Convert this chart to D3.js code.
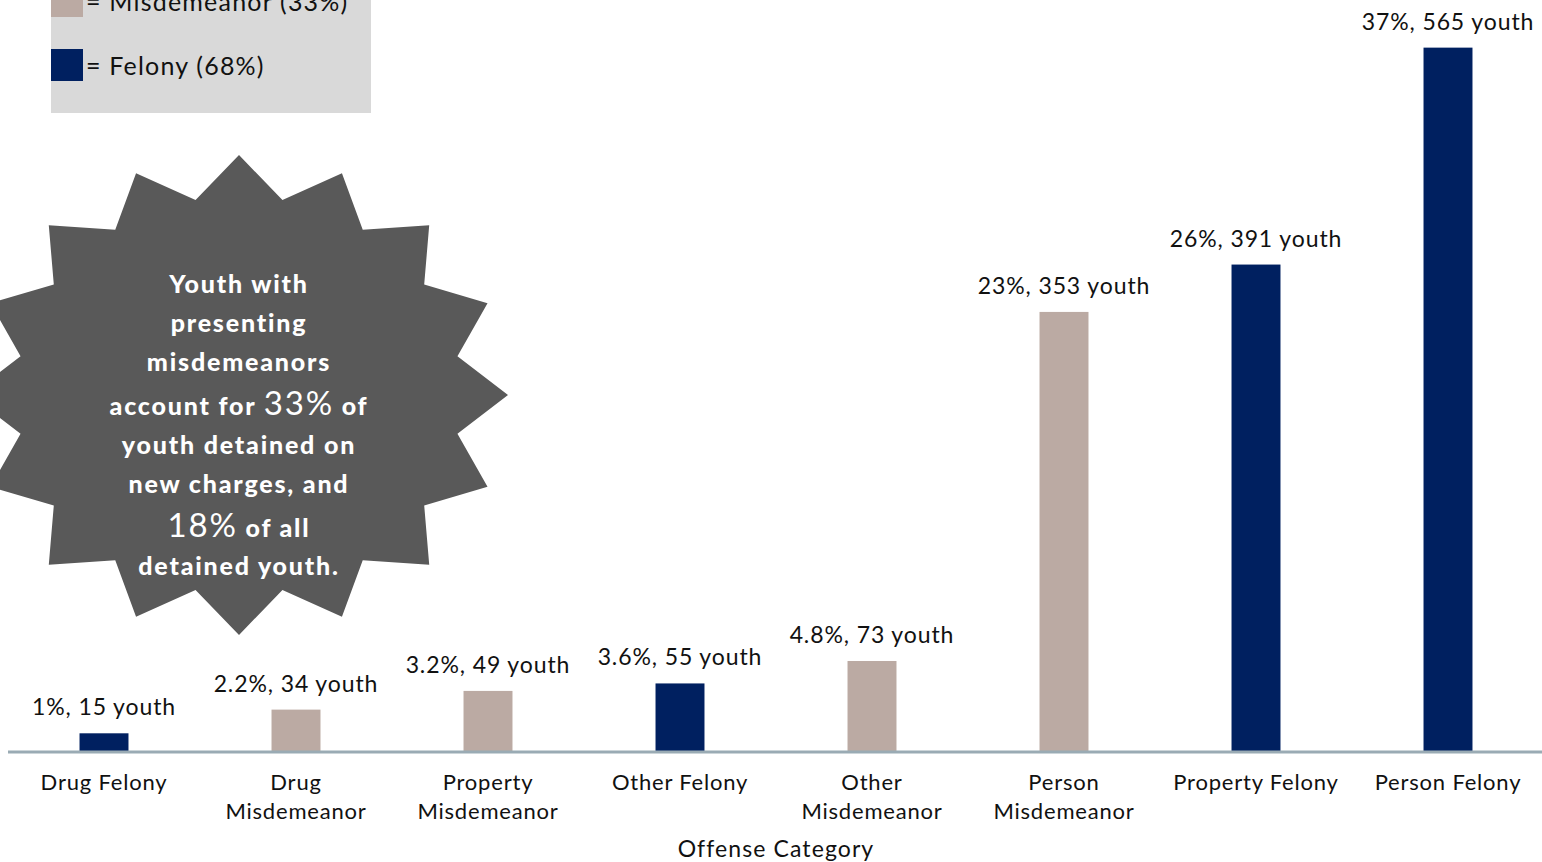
<!DOCTYPE html>
<html>
<head>
<meta charset="utf-8">
<script src="https://cdn.jsdelivr.net/npm/d3@7"></script>
<style>
  html, body { margin: 0; padding: 0; background: #fff; }
  svg { display: block; font-family: Lato, "Open Sans", sans-serif; }
</style>
</head>
<body>
<svg id="chart" width="1542" height="862"></svg>
<script>
// Offense categories (x axis), in display order
const categories = [
  ["Drug Felony"],
  ["Drug", "Misdemeanor"],
  ["Property", "Misdemeanor"],
  ["Other Felony"],
  ["Other", "Misdemeanor"],
  ["Person", "Misdemeanor"],
  ["Property Felony"],
  ["Person Felony"]
];
// Number of detained youth per category
const youthCounts = [15, 34, 49, 55, 73, 353, 391, 565];
// Share of youth per category, as printed
const shareLabels = ["1%", "2.2%", "3.2%", "3.6%", "4.8%", "23%", "26%", "37%"];
// Charge level per category
const chargeLevels = ["Felony", "Misdemeanor", "Misdemeanor", "Felony",
                      "Misdemeanor", "Misdemeanor", "Felony", "Felony"];
// Legend entries
const legendItems = [
  { level: "Misdemeanor", text: "= Misdemeanor (33%)" },
  { level: "Felony", text: "= Felony (68%)" }
];
// Call-out text; numbers flagged big are set larger
const calloutLines = [
  [["Youth with", false]],
  [["presenting", false]],
  [["misdemeanors", false]],
  [["account for ", false], ["33%", true], [" of", false]],
  [["youth detained on", false]],
  [["new charges, and", false]],
  [["18%", true], [" of all", false]],
  [["detained youth.", false]]
];
const axisTitle = "Offense Category";

const colors = { Felony: "#002060", Misdemeanor: "#bbaaa3" };

const svg = d3.select("#chart");
const keys = categories.map((c, i) => i);

const x = d3.scaleBand()
  .domain(keys)
  .range([8, 1544])
  .paddingInner(0.745)
  .paddingOuter(0.3725);

const y = d3.scaleLinear()
  .domain([0, 600])
  .range([752, 4]);

// Bars
svg.append("g").selectAll("rect")
  .data(youthCounts)
  .join("rect")
  .attr("x", (d, i) => x(i))
  .attr("y", d => y(d))
  .attr("width", x.bandwidth())
  .attr("height", d => y(0) - y(d))
  .attr("fill", (d, i) => colors[chargeLevels[i]]);

// Value labels above bars
svg.append("g").selectAll("text")
  .data(youthCounts)
  .join("text")
  .attr("x", (d, i) => x(i) + x.bandwidth() / 2)
  .attr("y", d => y(d) - 18)
  .attr("text-anchor", "middle")
  .attr("font-size", 23)
  .attr("letter-spacing", 0.9)
  .attr("fill", "#111")
  .text((d, i) => `${shareLabels[i]}, ${d} youth`);

// Baseline axis
const xAxis = svg.append("g")
  .attr("transform", `translate(0,${y(0)})`)
  .call(d3.axisBottom(x).tickSize(0).tickFormat(""));
xAxis.select(".domain")
  .attr("d", `M8,0H1542`)
  .attr("stroke", "#9aabb4")
  .attr("stroke-width", 3);

// Category labels (wrapped)
const catG = svg.append("g");
categories.forEach((lines, i) => {
  const t = catG.append("text")
    .attr("x", x(i) + x.bandwidth() / 2)
    .attr("y", 790)
    .attr("text-anchor", "middle")
    .attr("font-size", 22)
    .attr("letter-spacing", 0.8)
    .attr("fill", "#111");
  lines.forEach((ln, j) => {
    t.append("tspan")
      .attr("x", x(i) + x.bandwidth() / 2)
      .attr("dy", j === 0 ? 0 : 29)
      .text(ln);
  });
});

svg.append("text")
  .attr("x", 776)
  .attr("y", 857)
  .attr("text-anchor", "middle")
  .attr("font-size", 23)
  .attr("letter-spacing", 1.1)
  .attr("fill", "#111")
  .text(axisTitle);

// Legend box
const legend = svg.append("g");
legend.append("rect")
  .attr("x", 51).attr("y", -20)
  .attr("width", 320).attr("height", 133)
  .attr("fill", "#d9d9d9");
legendItems.forEach((item, i) => {
  const top = -15 + i * 64;
  legend.append("rect")
    .attr("x", 51).attr("y", top)
    .attr("width", 32).attr("height", 32)
    .attr("fill", colors[item.level]);
  legend.append("text")
    .attr("x", 86).attr("y", top + 26)
    .attr("font-size", 25)
    .attr("letter-spacing", 1.2)
    .attr("fill", "#111")
    .text(item.text);
});

// Starburst call-out
const cx = 239, cy = 395, rx = 269, ry = 240, inner = 0.828, spikes = 16;
const starPts = d3.range(spikes * 2).map(k => {
  const a = k * Math.PI / spikes;
  const r = k % 2 === 0 ? 1 : inner;
  return [cx + rx * r * Math.sin(a), cy - ry * r * Math.cos(a)];
});
svg.append("path")
  .attr("d", d3.line()(starPts) + "Z")
  .attr("fill", "#595959");

const baselines = [293, 332, 371, 415, 454, 493, 537, 575];
const callout = svg.append("g")
  .attr("fill", "#fff")
  .attr("text-anchor", "middle");
calloutLines.forEach((parts, i) => {
  const t = callout.append("text")
    .attr("x", cx)
    .attr("y", baselines[i])
    .attr("font-size", 25)
    .attr("letter-spacing", 1.8);
  parts.forEach(([txt, big]) => {
    t.append("tspan")
      .attr("font-size", big ? 33 : 25)
      .attr("font-weight", big ? 400 : 900)
      .text(txt);
  });
});
</script>
</body>
</html>
